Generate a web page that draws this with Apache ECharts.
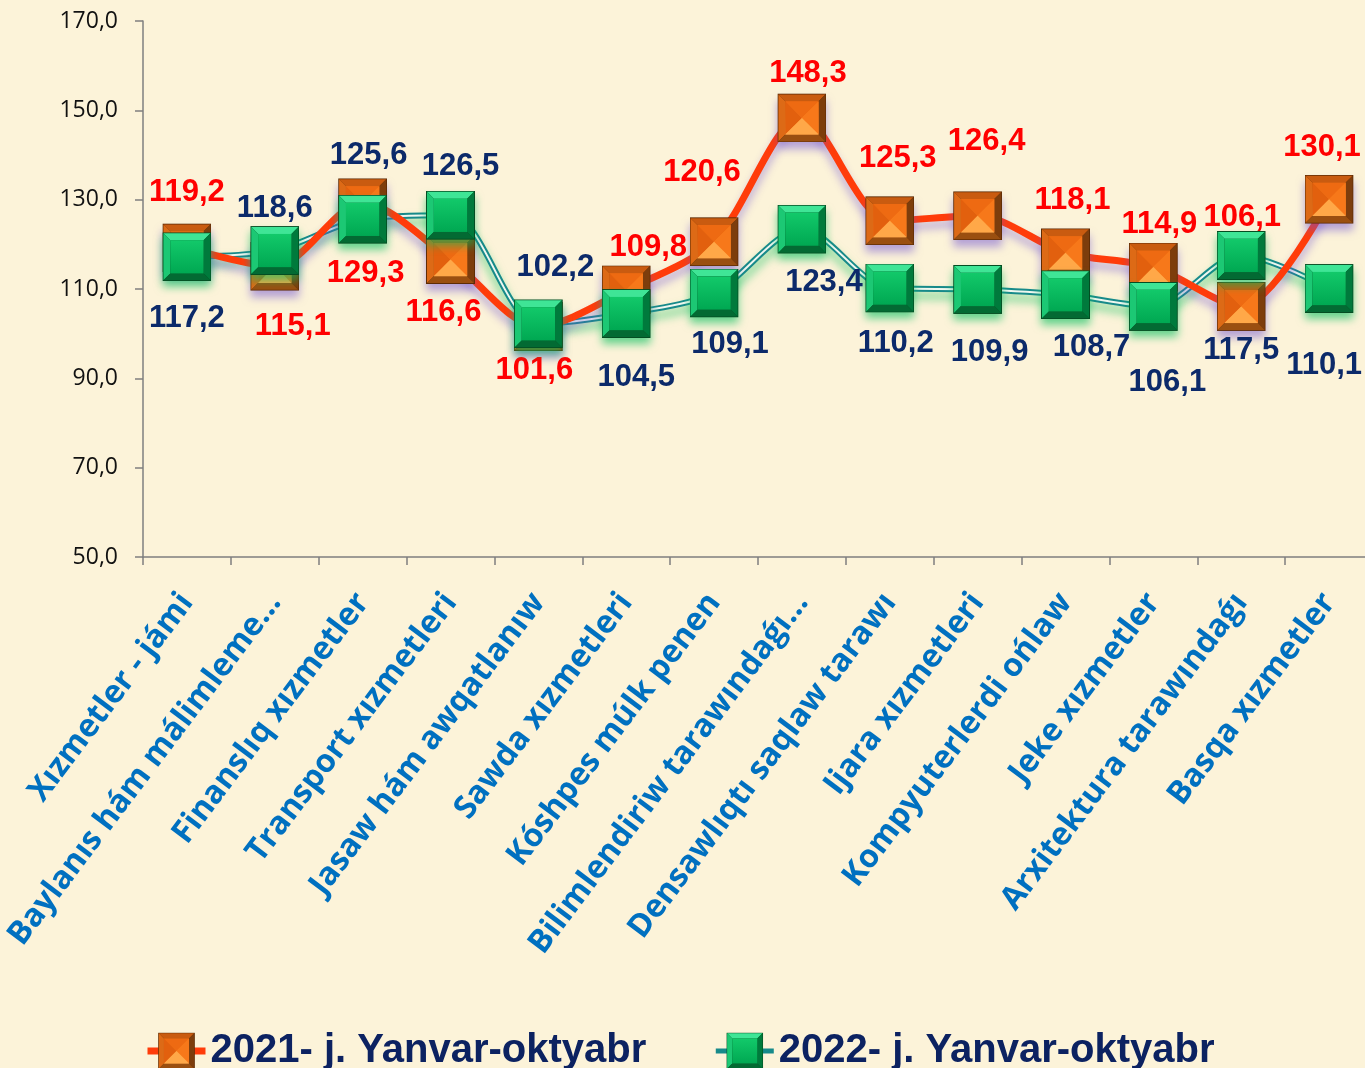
<!DOCTYPE html>
<html>
<head>
<meta charset="utf-8">
<script src="https://cdn.jsdelivr.net/npm/echarts@6/dist/echarts.min.js"></script>
<style>
  html, body { margin: 0; padding: 0; background: #fcf3d9; }
  #main { width: 1365px; height: 1068px; }
</style>
</head>
<body>
<div id="main"></div>
<script>
var chartDom = document.getElementById('main');
var myChart = echarts.init(chartDom);
var option;

// categories (x axis)
const categories = [
    'Xızmetler - jámi',
    'Baylanıs hám málimleme…',
    'Finanslıq xızmetler',
    'Transport xızmetleri',
    'Jasaw hám awqatlanıw',
    'Sawda xızmetleri',
    'Kóshpes múlk penen',
    'Bilimlendiriw tarawındaǵı…',
    'Densawlıqtı saqlaw tarawı',
    'Ijara xızmetleri',
    'Kompyuterlerdi ońlaw',
    'Jeke xızmetler',
    'Arxitektura tarawındaǵı',
    'Basqa xızmetler'
];

const seriesNames = ['2021- j. Yanvar-oktyabr', '2022- j. Yanvar-oktyabr'];

// values
const values2021 = [119.2, 115.1, 129.3, 116.6, 101.6, 109.8, 120.6, 148.3, 125.3, 126.4, 118.1, 114.9, 106.1, 130.1];
const values2022 = [117.2, 118.6, 125.6, 126.5, 102.2, 104.5, 109.1, 123.4, 110.2, 109.9, 108.7, 106.1, 117.5, 110.1];

// y axis range / tick step
const yMin = 50, yMax = 170, yStep = 20;

// where each value label sits relative to its marker (px)
const labelShift2021 = [[0, -55], [18, 60], [3, 71], [-7, 53], [-4, 44], [22, -42], [-12, -69], [6, -44], [8, -62], [9, -74], [7, -52], [6, -43], [1, -89], [-7, -52]];
const labelShift2022 = [[0, 62], [0, -42], [6, -64], [10, -49], [17, -56], [10, 64], [16, 51], [22, 53], [6, 55], [12, 63], [26, 53], [14, 76], [0, 95], [-5, 77]];

// beveled square markers
function bevelSymbol(c) {
    var svg = "<svg xmlns='http://www.w3.org/2000/svg' width='50' height='50' viewBox='0 0 50 50'>" +
        "<defs><linearGradient id='g' x1='0' y1='0' x2='0' y2='1'>" +
        "<stop offset='0' stop-color='" + c.face1 + "'/><stop offset='1' stop-color='" + c.face2 + "'/></linearGradient></defs>" +
        "<rect x='0' y='0' width='50' height='50' fill='" + c.edge + "'/>" +
        "<polygon points='1,1 49,1 42,8 8,8' fill='" + c.top + "'/>" +
        "<polygon points='1,1 8,8 8,42 1,49' fill='" + c.left + "'/>" +
        "<polygon points='49,1 49,49 42,42 42,8' fill='" + c.right + "'/>" +
        "<polygon points='1,49 8,42 42,42 49,49' fill='" + c.bottom + "'/>" +
        "<rect x='8' y='8' width='34' height='34' fill='url(#g)'/>" +
        (c.pyramid ?
            "<polygon points='8,8 42,8 25,25' fill='" + c.p1 + "'/>" +
            "<polygon points='8,8 25,25 8,42' fill='" + c.p2 + "'/>" +
            "<polygon points='42,8 42,42 25,25' fill='" + c.p3 + "'/>" +
            "<polygon points='8,42 25,25 42,42' fill='" + c.p4 + "'/>" : '') +
        "</svg>";
    return 'image://data:image/svg+xml;charset=utf-8,' + encodeURIComponent(svg);
}

const orangeSymbol = bevelSymbol({
    edge: '#5e2c06', top: '#c95b10', left: '#dd6a16', right: '#7d3d0c', bottom: '#9a4f10',
    face1: '#f07012', face2: '#ff9a3a', pyramid: true,
    p1: '#ee6a12', p2: '#e2600e', p3: '#f7781a', p4: '#ffa848'
});
const greenSymbol = bevelSymbol({
    edge: '#044d22', top: '#3fe596', left: '#1cc874', right: '#007a3c', bottom: '#036a33',
    face1: '#12c96a', face2: '#00a852', pyramid: false
});

function fmt(v) {
    return v.toFixed(1).replace('.', ',');
}

function labelled(values, shifts) {
    return values.map(function (v, i) {
        return { value: v, label: { offset: shifts[i] } };
    });
}

option = {
    backgroundColor: '#fcf3d9',
    animation: false,
    grid: {
        left: 143,
        right: -8,
        top: 21,
        bottom: 511,
        outerBoundsMode: 'none'
    },
    legend: {
        left: 139,
        top: 1026,
        itemWidth: 58,
        itemHeight: 46,
        itemGap: 67,
        data: [
            { name: seriesNames[0], lineStyle: { width: 7 } },
            { name: seriesNames[1], lineStyle: { opacity: 1, color: '#178a8a', width: 5 } }
        ],
        textStyle: {
            fontFamily: "'Liberation Sans', Arial, sans-serif",
            fontWeight: 'bold',
            fontSize: 40,
            color: '#0c2261'
        }
    },
    xAxis: {
        type: 'category',
        data: categories,
        boundaryGap: true,
        axisLine: { lineStyle: { color: '#7f7f7f', width: 1.5 } },
        axisTick: { show: true, length: 8, lineStyle: { color: '#7f7f7f', width: 1.5 } },
        axisLabel: {
            interval: 0,
            rotate: 53,
            margin: 40,
            fontFamily: "'Open Sans', sans-serif",
            fontWeight: 700,
            fontSize: 32,
            color: '#0070c0'
        }
    },
    yAxis: {
        type: 'value',
        min: yMin,
        max: yMax,
        interval: yStep,
        splitLine: { show: false },
        axisLine: { show: true, lineStyle: { color: '#7f7f7f', width: 1.5 } },
        axisTick: { show: true, length: 8, lineStyle: { color: '#7f7f7f', width: 1.5 } },
        axisLabel: {
            margin: 25,
            fontFamily: "'Open Sans', sans-serif",
            fontSize: 23,
            color: '#111',
            formatter: function (v) { return fmt(v); }
        }
    },
    series: [
        {
            // dark outer stroke of the 2022 double line
            name: 'outer2022',
            type: 'line',
            data: values2022,
            smooth: 0.3,
            symbol: 'none',
            z: 2,
            lineStyle: {
                color: '#178a8a', width: 6,
                shadowColor: 'rgba(0, 190, 90, 0.55)', shadowBlur: 10, shadowOffsetY: 7
            },
            silent: true
        },
        {
            // light inner stroke of the 2022 double line
            name: 'inner2022',
            type: 'line',
            data: values2022,
            smooth: 0.3,
            symbol: 'none',
            z: 2,
            lineStyle: { color: '#eef7ef', width: 2 },
            silent: true
        },
        {
            name: seriesNames[0],
            type: 'line',
            data: labelled(values2021, labelShift2021),
            smooth: 0.3,
            z: 3,
            symbol: orangeSymbol,
            symbolSize: 49,
            lineStyle: {
                color: '#ff3c0a', width: 7,
                shadowColor: 'rgba(110, 80, 210, 0.45)', shadowBlur: 8, shadowOffsetY: 7
            },
            itemStyle: {
                color: '#f07012',
                shadowColor: 'rgba(110, 80, 210, 0.5)', shadowBlur: 8, shadowOffsetY: 7
            },
            label: {
                show: true,
                position: 'inside',
                align: 'center',
                verticalAlign: 'middle',
                fontFamily: "'Liberation Sans', Arial, sans-serif",
                fontWeight: 'bold',
                fontSize: 31,
                color: '#ff0000',
                formatter: function (p) { return fmt(p.value); }
            }
        },
        {
            name: seriesNames[1],
            type: 'line',
            data: labelled(values2022, labelShift2022),
            smooth: 0.3,
            z: 4,
            symbol: greenSymbol,
            symbolSize: 49,
            lineStyle: { color: '#178a8a', width: 5, opacity: 0 },
            itemStyle: {
                color: '#00b050',
                shadowColor: 'rgba(0, 190, 90, 0.6)', shadowBlur: 9, shadowOffsetY: 6
            },
            label: {
                show: true,
                position: 'inside',
                align: 'center',
                verticalAlign: 'middle',
                fontFamily: "'Liberation Sans', Arial, sans-serif",
                fontWeight: 'bold',
                fontSize: 31,
                color: '#0c2a6a',
                formatter: function (p) { return fmt(p.value); }
            }
        }
    ]
};

myChart.setOption(option);
</script>
</body>
</html>
